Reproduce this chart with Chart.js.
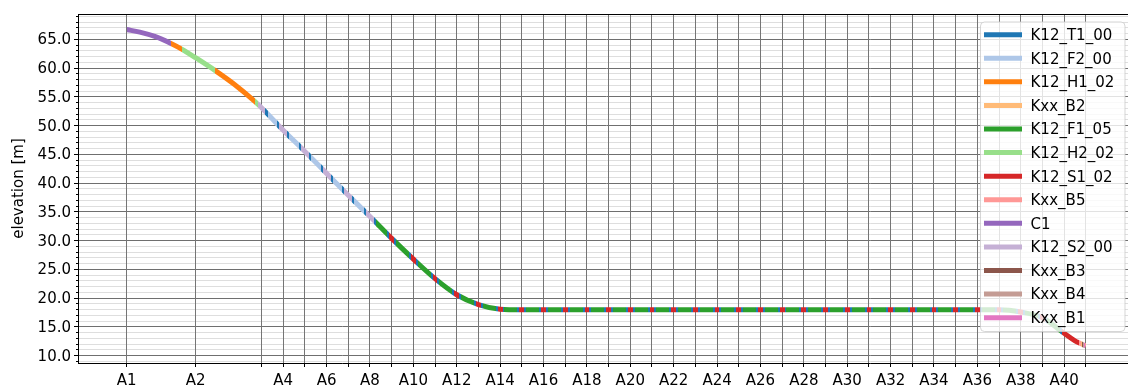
<!DOCTYPE html>
<html>
<head>
<meta charset="utf-8">
<title>Elevation profile</title>
<script src="https://cdn.jsdelivr.net/npm/chart.js@4.4.1/dist/chart.umd.min.js"></script>
<style>
  html, body { margin: 0; padding: 0; background: #ffffff; overflow: hidden; }
  #wrap { position: relative; width: 1140px; height: 389px; }
</style>
</head>
<body>
<div id="wrap"><canvas id="profile"></canvas></div>
<script>
// Stations along the route (chainage in m)
const stationNames = ['A1','A2','A3','A4','A5','A6','A7','A8','A9','A10','A11','A12','A13','A14','A15','A16','A17','A18','A19','A20','A21','A22','A23','A24','A25','A26','A27','A28','A29','A30','A31','A32','A33','A34','A35','A36','A37','A38','A39','A40','A41'];
const stationChainage = [0, 318, 622, 722, 822, 922, 1022, 1122, 1222, 1322, 1422, 1522, 1622, 1722, 1822, 1922, 2022, 2122, 2222, 2322, 2422, 2522, 2622, 2722, 2822, 2922, 3022, 3122, 3222, 3322, 3422, 3522, 3622, 3722, 3822, 3922, 4022, 4122, 4222, 4322, 4422];
const tickLabels = ['A1','A2','','A4','','A6','','A8','','A10','','A12','','A14','','A16','','A18','','A20','','A22','','A24','','A26','','A28','','A30','','A32','','A34','','A36','','A38','','A40',''];

// Longitudinal profile: chainage [m] and elevation [m]
const profileChainage = [0, 61, 130, 209, 254, 318, 407, 499, 591, 622, 722, 822, 922, 1022, 1122, 1222, 1322, 1422, 1522, 1622, 1722,
  1822, 1922, 2022, 2122, 2222, 2322, 2422, 2522, 2622, 2722, 2822, 2922, 3022, 3122, 3222, 3322, 3422, 3522, 3622, 3722, 3822, 3922, 4022,
  4122, 4222, 4322, 4372, 4422];
const profileElevation = [66.7, 66.25, 65.5, 64.2, 63.3, 61.8, 59.6, 57.1, 54.2, 53.1, 49.2, 45.5, 41.7, 37.9, 34.2, 30.4, 26.8, 23.4, 20.6, 18.9, 18.1,
  18.0, 18.0, 18.0, 18.0, 18.0, 18.0, 18.0, 18.0, 18.0, 18.0, 18.0, 18.0, 18.0, 18.0, 18.0, 18.0, 18.0, 18.0, 18.0, 18.0, 18.0, 18.0, 18.0,
  17.6, 16.6, 13.9, 12.6, 11.7];

// Track element types and their colours
const categories = ['K12_T1_00','K12_F2_00','K12_H1_02','Kxx_B2','K12_F1_05','K12_H2_02','K12_S1_02','Kxx_B5','C1','K12_S2_00','Kxx_B3','Kxx_B4','Kxx_B1'];
const categoryColors = ['#1f77b4','#aec7e8','#ff7f0e','#ffbb78','#2ca02c','#98df8a','#d62728','#ff9896','#9467bd','#c5b0d5','#8c564b','#c49c94','#e377c2'];

// Individually placed elements: [type, from chainage, to chainage]
const fixedSegments = [
  ['C1', 0, 207], ['K12_H1_02', 207, 254], ['K12_H2_02', 254, 407], ['K12_H1_02', 407, 591], ['K12_H2_02', 591, 604],
  ['K12_S1_02', 4311, 4391], ['Kxx_B5', 4391, 4399], ['Kxx_B2', 4399, 4404], ['Kxx_B3', 4404, 4408],
  ['Kxx_B4', 4408, 4413], ['Kxx_B1', 4413, 4416], ['Kxx_B5', 4416, 4422]
];

// Regular station pattern: switch at each station, transitions and free track in between
const transitionCat = 'K12_T1_00';
const trackZones = [
  { from: 'A3', to: 'A8',  switchCat: 'K12_S2_00', freeCat: 'K12_F2_00', switchHalf: 18, transition: 10 },
  { from: 'A9', to: 'A40', switchCat: 'K12_S1_02', freeCat: 'K12_F1_05', switchHalf: 11, transition: 9 }
];

function buildCategoryRanges() {
  const ranges = Object.fromEntries(categories.map(c => [c, []]));
  for (const [cat, a, b] of fixedSegments) ranges[cat].push([a, b]);
  const halfAt = stationNames.map(() => null);
  const zoneAt = stationNames.map(() => null);
  for (const z of trackZones) {
    const i0 = stationNames.indexOf(z.from), i1 = stationNames.indexOf(z.to);
    for (let i = i0; i <= i1; i++) {
      halfAt[i] = z.switchHalf;
      zoneAt[i] = z;
      const s = stationChainage[i];
      ranges[z.switchCat].push([s - z.switchHalf, s + z.switchHalf]);
    }
  }
  for (let i = 0; i + 1 < stationNames.length; i++) {
    if (!zoneAt[i] || !zoneAt[i + 1]) continue;
    const z = zoneAt[i + 1];
    const a = stationChainage[i] + halfAt[i];
    const b = stationChainage[i + 1] - halfAt[i + 1];
    ranges[transitionCat].push([a, a + z.transition], [b - z.transition, b]);
    ranges[z.freeCat].push([a + z.transition, b - z.transition]);
  }
  return ranges;
}
const categoryRanges = buildCategoryRanges();

const profilePoints = profileChainage.map((x, i) => ({ x, y: profileElevation[i] }));
const FONT = 'DejaVu Sans';

// Each element type draws the profile only along its own stretches
const rangeClip = {
  id: 'rangeClip',
  beforeDatasetDraw(chart, args) {
    const ds = chart.data.datasets[args.index];
    const xs = chart.scales.x;
    const { top, bottom } = chart.chartArea;
    const ctx = chart.ctx;
    ctx.save();
    ctx.beginPath();
    for (const [a, b] of categoryRanges[ds.label]) {
      const x1 = Math.round(xs.getPixelForValue(a));
      const x2 = Math.round(xs.getPixelForValue(b));
      ctx.rect(x1, top - 2, x2 - x1, bottom - top + 4);
    }
    ctx.clip();
  },
  afterDatasetDraw(chart) {
    chart.ctx.restore();
  }
};

// Upper spine and short minor ticks on the elevation axis
const frameAndMinorTicks = {
  id: 'frameAndMinorTicks',
  afterDraw(chart) {
    const { ctx, chartArea } = chart;
    const ys = chart.scales.y;
    ctx.save();
    ctx.strokeStyle = '#000';
    ctx.lineWidth = 1;
    ctx.beginPath();
    const t = Math.round(chartArea.top) + 0.5;
    ctx.moveTo(Math.round(chartArea.left), t);
    ctx.lineTo(chartArea.right, t);
    ctx.stroke();
    const left = Math.round(chartArea.left);
    ctx.beginPath();
    for (const tick of ys.ticks) {
      if (tick.value % 5 === 0) continue;
      const y = Math.floor(ys.getPixelForValue(tick.value)) + 0.5;
      ctx.moveTo(left - 2, y);
      ctx.lineTo(left, y);
    }
    ctx.stroke();
    ctx.restore();
  }
};

// Legend box inside the plot, upper right
const profileLegend = {
  id: 'profileLegend',
  afterDraw(chart) {
    const { ctx, chartArea } = chart;
    const right = chartArea.right - 9;
    const top = chartArea.top + 8;
    const width = 144.5, height = 309.5, rowH = 23.58;
    const left = right - width;
    ctx.save();
    ctx.beginPath();
    ctx.roundRect(left, top, width, height, 4);
    ctx.fillStyle = 'rgba(255,255,255,0.8)';
    ctx.fill();
    ctx.strokeStyle = 'rgba(204,204,204,0.8)';
    ctx.lineWidth = 1;
    ctx.stroke();
    ctx.font = '15px "' + FONT + '"';
    ctx.textAlign = 'left';
    ctx.textBaseline = 'alphabetic';
    chart.data.datasets.forEach((ds, i) => {
      const y = top + 12.7 + i * rowH;
      ctx.strokeStyle = ds.borderColor;
      ctx.lineWidth = 5;
      ctx.lineCap = 'butt';
      ctx.beginPath();
      ctx.moveTo(left + 3.5, y);
      ctx.lineTo(left + 41.5, y);
      ctx.stroke();
      ctx.fillStyle = '#000';
      ctx.fillText(ds.label, left + 50, y + 5.4);
    });
    ctx.restore();
  }
};

const datasets = categories.map((cat, i) => ({
  label: cat,
  data: profilePoints,
  borderColor: categoryColors[i],
  backgroundColor: categoryColors[i],
  borderWidth: 5,
  borderCapStyle: 'butt',
  pointRadius: 0,
  pointHoverRadius: 0,
  fill: false,
  cubicInterpolationMode: 'monotone'
}));

new Chart(document.getElementById('profile'), {
  type: 'line',
  data: { datasets },
  options: {
    responsive: true,
    maintainAspectRatio: false,
    animation: false,
    devicePixelRatio: 1,
    parsing: false,
    layout: { padding: { top: 14, right: 6, left: 0, bottom: 0 } },
    plugins: { legend: { display: false }, tooltip: { enabled: false } },
    scales: {
      x: {
        type: 'linear',
        min: -224,
        max: 4644,
        afterBuildTicks: s => { s.ticks = stationChainage.map(v => ({ value: v })); },
        afterFit: s => { s.height = 26; },
        ticks: {
          autoSkip: false, maxRotation: 0, minRotation: 0, padding: 5,
          color: '#000', font: { family: FONT, size: 15 },
          callback: (v, i) => tickLabels[i] ?? ''
        },
        grid: { z: -1, color: '#757575', lineWidth: 1, tickLength: 4, tickColor: '#000' },
        border: { color: '#000', width: 1 }
      },
      y: {
        type: 'linear',
        min: 8.74,
        max: 69.40,
        afterBuildTicks: s => {
          const t = [];
          for (let v = 9; v <= 69; v++) t.push({ value: v });
          s.ticks = t;
        },
        afterFit: s => { s.width = 78; },
        ticks: {
          autoSkip: false, padding: 3, labelOffset: 1, color: '#000', font: { family: FONT, size: 15 },
          callback: v => (v % 5 === 0 ? v.toFixed(1) : '')
        },
        grid: {
          z: -2,
          lineWidth: 1,
          tickLength: 4,
          color: c => (c.tick && c.tick.value % 5 === 0 ? '#6f6f6f' : '#dedede'),
          tickColor: c => (c.tick && c.tick.value % 5 === 0 ? '#000' : 'rgba(0,0,0,0)')
        },
        border: { color: '#000', width: 1 },
        title: {
          display: true, text: 'elevation [m]', color: '#000',
          font: { family: FONT, size: 15 }, padding: { top: 10, bottom: 0 }
        }
      }
    }
  },
  plugins: [rangeClip, frameAndMinorTicks, profileLegend]
});
</script>
</body>
</html>
